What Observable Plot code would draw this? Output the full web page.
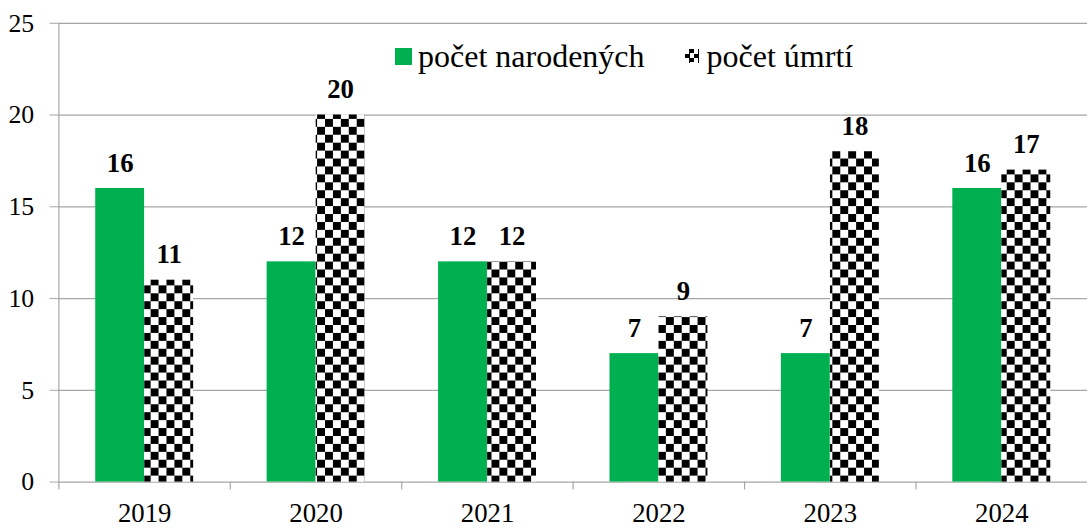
<!DOCTYPE html>
<html>
<head>
<meta charset="utf-8">
<script src="https://cdn.jsdelivr.net/npm/d3@7"></script>
<script src="https://cdn.jsdelivr.net/npm/@observablehq/plot@0.6"></script>
<style>
  html, body { margin: 0; padding: 0; background: #fff; overflow: hidden; }
  #wrap { position: relative; width: 1087px; height: 529px; overflow: hidden; }
  #legend { position: absolute; left: 395px; top: 36px; font-family: "Liberation Serif", "Times New Roman", Tinos, "DejaVu Serif", serif; font-size: 32px; line-height: 40px; color: #000; display: flex; align-items: center; white-space: nowrap; }
  .sw { display: inline-block; width: 17px; height: 17px; margin-right: 6px; }
  .g { background: #00b050; }
  .c { width: 14px; height: 14px; margin-right: 8px;
       background-image: conic-gradient(#000 25%, #fff 0 50%, #000 0 75%, #fff 0);
       background-size: 9px 9px; }
  svg text { font-family: "Liberation Serif", "Times New Roman", Tinos, "DejaVu Serif", serif; }
</style>
</head>
<body>
<div id="wrap">
  <div id="legend">
    <span class="sw g"></span><span>počet narodených</span>
    <span style="display:inline-block;width:40px"></span>
    <span class="sw c"></span><span>počet úmrtí</span>
  </div>
</div>
<script>
const years = ["2019", "2020", "2021", "2022", "2023", "2024"];
const births = [16, 12, 12, 7, 7, 16];
const deaths = [11, 20, 12, 9, 18, 17];
const yTicks = [0, 5, 10, 15, 20, 25];

const birthRows = years.map((year, i) => ({year, value: births[i]}));
const deathRows = years.map((year, i) => ({year, value: deaths[i]}));

const W = 1097, ML = 58, MR = 0;
const bw = (W - ML - MR) / years.length;
const barW = 49.5;
const font = '"Liberation Serif", "Times New Roman", Tinos, "DejaVu Serif", serif';

const chart = Plot.plot({
  width: W,
  height: 529,
  marginLeft: ML,
  marginRight: MR,
  marginTop: 23,
  marginBottom: 43,
  style: {fontFamily: font, color: "#000", background: "#fff", overflow: "visible"},
  x: {domain: years, padding: 0},
  y: {domain: [0, 25]},
  marks: [
    Plot.ruleY(yTicks, {stroke: "#a6a6a6", strokeWidth: 1.2}),
    Plot.ruleX([years[0]], {stroke: "#a6a6a6", strokeWidth: 1.2, dx: -bw / 2}),
    Plot.ruleX(years, {x: d => d, dx: -bw / 2, y1: 0, y2: 0, insetBottom: -8, stroke: "#a6a6a6", strokeWidth: 1.2}),
    Plot.axisY({ticks: yTicks, tickSize: 8, tickPadding: 16, stroke: "#a6a6a6", fontSize: 26, fill: "#000", label: null}),
    Plot.axisX({tickSize: 0, tickPadding: 21, fontSize: 27, fill: "#000", label: null}),
    Plot.barY(birthRows, {x: "year", y: "value", fill: "#00b050", insetLeft: bw / 2 - barW, insetRight: bw / 2}),
    Plot.barY(deathRows, {x: "year", y: "value", fill: "url(#checker)", insetLeft: bw / 2, insetRight: bw / 2 - barW}),
    Plot.text(birthRows, {x: "year", y: "value", text: d => String(d.value), dx: -barW / 2, dy: -17, lineAnchor: "bottom", fontSize: 27, fontWeight: "bold", fill: "#000"}),
    Plot.text(deathRows, {x: "year", y: "value", text: d => String(d.value), dx: barW / 2, dy: -17, lineAnchor: "bottom", fontSize: 27, fontWeight: "bold", fill: "#000"})
  ]
});

const ns = "http://www.w3.org/2000/svg";
const defs = document.createElementNS(ns, "defs");
defs.innerHTML = `<pattern id="checker" patternUnits="userSpaceOnUse" width="16" height="16">
  <rect width="16" height="16" fill="#fff"/>
  <rect x="0" y="0" width="8" height="8" fill="#000"/>
  <rect x="8" y="8" width="8" height="8" fill="#000"/>
</pattern>`;
chart.insertBefore(defs, chart.firstChild);
document.getElementById("wrap").insertBefore(chart, document.getElementById("legend"));
</script>
</body>
</html>
